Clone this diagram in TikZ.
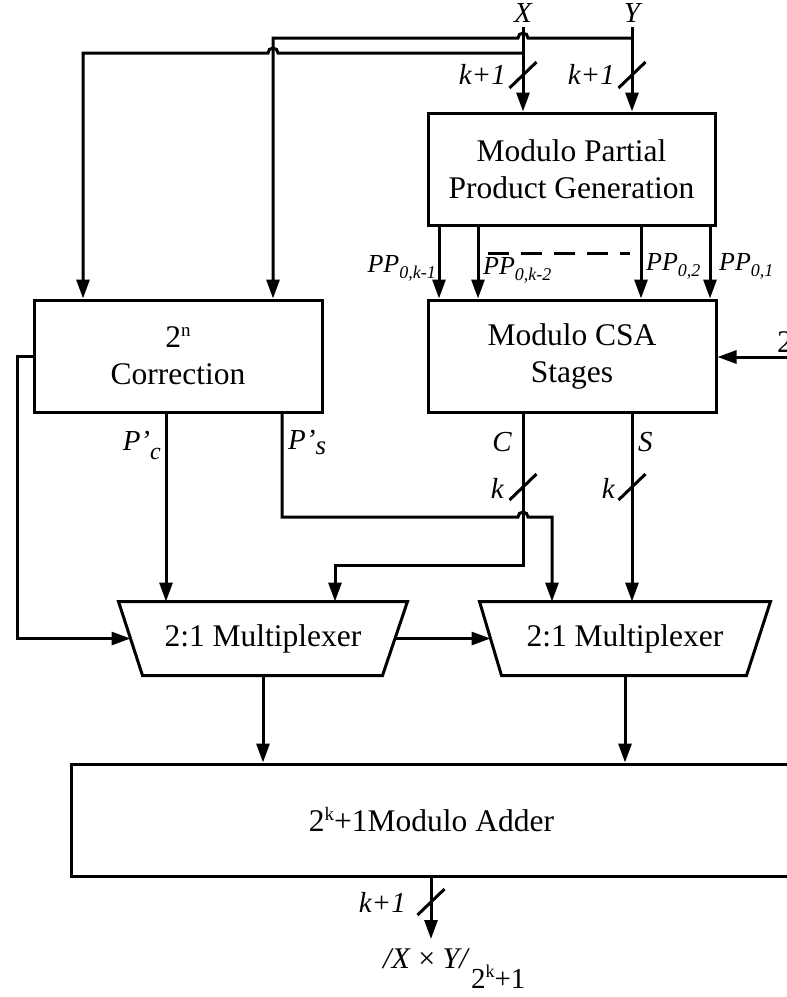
\documentclass[tikz,border=0pt]{standalone}
\usepackage{fontspec}
\setmainfont{Liberation Serif}
\usetikzlibrary{arrows.meta}
% small lowered / raised text used for indices and powers
\newcommand{\lsub}[3][18]{\raisebox{-#3}{\fontsize{#1}{#1}\selectfont #2}}
\newcommand{\lsup}[2][19]{\raisebox{11pt}{\fontsize{#1}{#1}\selectfont #2}}
\begin{document}
\begin{tikzpicture}[x=1pt,y=-1pt,
  wire/.style={line width=3pt},
  arr/.style={wire,-{Triangle[length=19pt,width=13pt]}},
  blk/.style={draw,line width=3pt,inner sep=0pt,align=center,
              font=\fontsize{31.5}{37}\selectfont},
  lbl/.style={inner sep=0pt,font=\fontsize{29}{30}\selectfont\itshape},
  pplbl/.style={inner sep=0pt,font=\fontsize{26}{28}\selectfont\itshape},
  busmark/.style={wire}
]
\useasboundingbox (0,0) rectangle (787,997);

% ---- blocks ----
\node[blk,minimum width=287pt,minimum height=112pt] (ppg) at (571.5,169)
  {Modulo Partial\\Product Generation};
\node[blk,minimum width=288pt,minimum height=112pt] (csa) at (572,356)
  {Modulo CSA\\Stages};
\node[blk,minimum width=288pt,minimum height=112pt] (corr) at (178,356)
  {2\lsup{n}\\Correction};
\node[blk,minimum width=721pt,minimum height=112pt] (add) at (431.5,820)
  {2\lsup{k}+1Modulo Adder};

% multiplexers: trapezia drawn around invisible boxes
\node[blk,draw=none,minimum width=286pt,minimum height=71pt] (mux1) at (263,638.5)
  {2:1 Multiplexer};
\node[blk,draw=none,minimum width=288pt,minimum height=71pt] (mux2) at (625,638.5)
  {2:1 Multiplexer};
\draw[wire,line join=miter] (mux1.north west) -- (mux1.north east)
  -- ([xshift=-25pt]mux1.south east) -- ([xshift=24pt]mux1.south west) -- cycle;
\draw[wire,line join=miter] (mux2.north west) -- (mux2.north east)
  -- ([xshift=-24pt]mux2.south east) -- ([xshift=22pt]mux2.south west) -- cycle;

% ---- primary inputs ----
\node[lbl] (xl) at (523,13) {X};
\node[lbl] (yl) at (632,13) {Y};
\draw[arr] ([yshift=-4pt]xl.south) -- (xl.south |- ppg.north);
\draw[arr] ([yshift=-4pt]yl.south) -- (yl.south |- ppg.north);

\coordinate (ytap) at (632,38);
\coordinate (xtap) at (523,53);
\draw[arr] (ytap) -- (528,38) arc[start angle=0,end angle=-180,radius=5]
  -- (273,38) -- (corr.north -| 273,0);
\draw[arr] (xtap) -- (278,53) arc[start angle=0,end angle=-180,radius=5]
  -- (83,53) -- (corr.north -| 83,0);

% bus width marks on the inputs
\draw[busmark] (523,75) ++(-13.5,13) -- ++(27,-26);
\draw[busmark] (632,75) ++(-13.5,13) -- ++(27,-26);
\node[lbl,anchor=east] (kx) at (506,74) {k+1};
\node[lbl,anchor=east] (ky) at (615,74) {k+1};

% ---- partial products ----
\foreach \px in {439,478,641,710}
  \draw[arr] (ppg.south -| \px,0) -- (csa.north -| \px,0);
\draw[wire,dash pattern=on 21pt off 12pt] (488,253) -- (630,253);
\node[pplbl,anchor=east] (pp1) at (436,268) {PP\lsub{0,k-1}{6pt}};
\node[pplbl,anchor=west] (pp2) at (483,270) {PP\lsub{0,k-2}{6pt}};
\node[pplbl,anchor=west] (pp3) at (646,266) {PP\lsub{0,2}{6pt}};
\node[pplbl,anchor=west] (pp4) at (719,266) {PP\lsub{0,1}{6pt}};

% side input of the CSA stages
\coordinate (rin) at (800,357);
\draw[arr] (rin) -- (rin -| csa.east);
\node[anchor=west,inner sep=0pt,font=\fontsize{31.5}{37}\selectfont] (two) at (777,342) {2};

% ---- correction outputs ----
\draw[arr] (corr.west) -- (17,356) |- ([xshift=12pt]mux1.west);
\draw[arr] (corr.south -| 166,0) -- (mux1.north -| 166,0);
\node[lbl,anchor=east] (pc) at (161,445) {P’\lsub[24]{c}{9pt}};
\draw[arr] (corr.south -| 282,0) |- (518,517)
  arc[start angle=180,end angle=360,radius=5] -- (552,517) -- (mux2.north -| 552,0);
\node[lbl,anchor=west] (ps) at (288,442) {P’\lsub[27]{s}{5pt}};

% ---- carry and sum ----
\draw[arr] (csa.south -| 523,0) |- (335,565) -- (mux1.north -| 335,0);
\draw[busmark] (523,487) ++(-13.5,13) -- ++(27,-26);
\node[lbl,anchor=east] (cl) at (512,442) {C};
\node[lbl,anchor=east] (kc) at (504,488) {k};
\draw[arr] (csa.south -| 632,0) -- (mux2.north -| 632,0);
\draw[busmark] (632,487) ++(-13.5,13) -- ++(27,-26);
\node[lbl,anchor=west] (sl) at (638,442) {S};
\node[lbl,anchor=east] (ks) at (615,488) {k};

% ---- multiplexers to adder ----
\draw[arr] ([xshift=-12pt]mux1.east) -- ([xshift=11pt]mux2.west);
\draw[arr] (mux1.south) -- (mux1.south |- add.north);
\draw[arr] (mux2.south) -- (mux2.south |- add.north);

% ---- result ----
\coordinate (outtip) at (431,939);
\draw[arr] (add.south -| outtip) -- (outtip);
\draw[busmark] (431,902) ++(-13.5,13) -- ++(27,-26);
\node[lbl,anchor=east] (ko) at (406,902) {k+1};
\node[anchor=base west,inner sep=0pt,font=\fontsize{30}{30}\selectfont] (res) at (383,968)
  {\textit{/X} × \textit{Y/}\kern1pt\raisebox{-20pt}{\fontsize{29}{29}\selectfont 2\lsup[18]{k}+1}};
\end{tikzpicture}
\end{document}
